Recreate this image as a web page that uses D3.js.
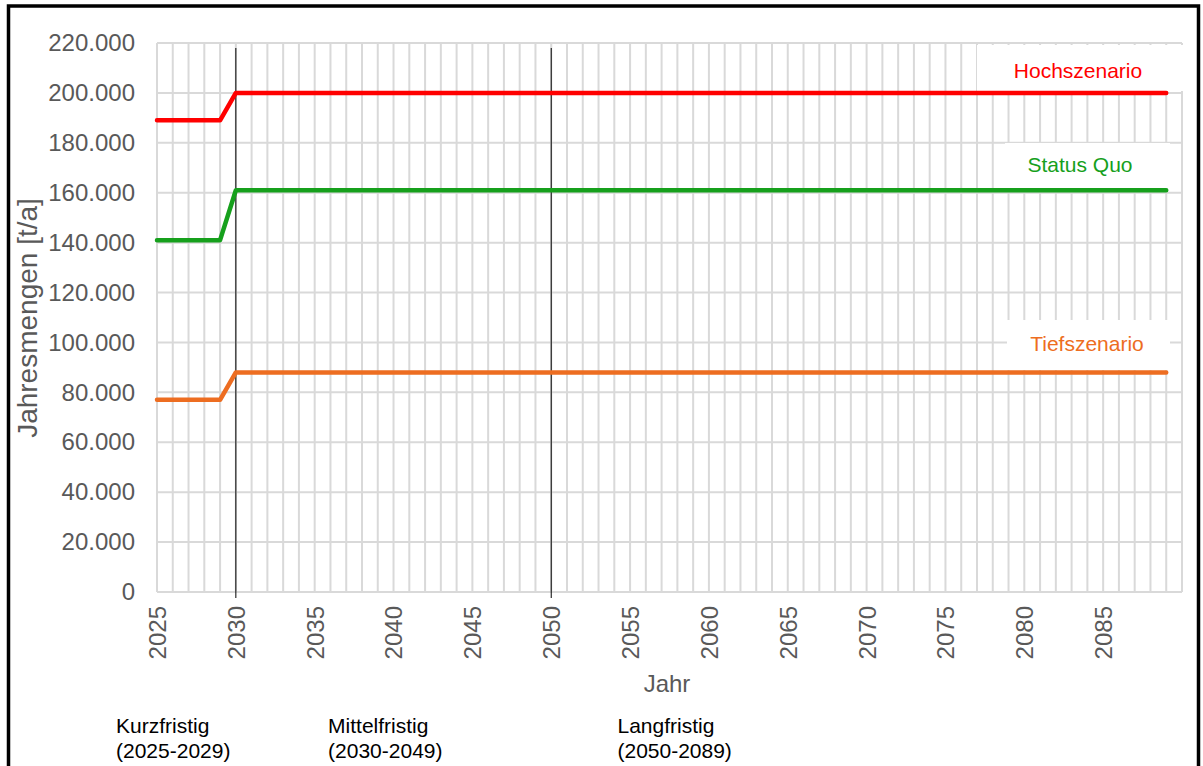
<!DOCTYPE html>
<html><head><meta charset="utf-8">
<script src="https://cdn.jsdelivr.net/npm/d3@7"></script>
<style>body{margin:0;background:#fff}svg{display:block}text{font-family:Arial,"Liberation Sans",sans-serif}</style>
</head><body>
<svg id="c" width="1203" height="766"></svg>
<script>
const years = d3.range(2025, 2090);
const hochValues = years.map(y => y < 2030 ? 189000 : 200000);
const statusQuoValues = years.map(y => y < 2030 ? 141000 : 161000);
const tiefValues = years.map(y => y < 2030 ? 77000 : 88000);
const seriesNames = ["Hochszenario", "Status Quo", "Tiefszenario"];
const seriesColors = ["#ff0000", "#16a01c", "#ed6d21"];
const yTicks = [0,20000,40000,60000,80000,100000,120000,140000,160000,180000,200000,220000];
const xTicks = [2025,2030,2035,2040,2045,2050,2055,2060,2065,2070,2075,2080,2085];
const markerYears = [2030, 2050];
const periods = [
  {label:"Kurzfristig", range:"(2025-2029)", year:2022.4},
  {label:"Mittelfristig", range:"(2030-2049)", year:2035.85},
  {label:"Langfristig", range:"(2050-2089)", year:2054.2}
];

const svg = d3.select("#c");
const x = d3.scaleLinear().domain([2025, 2090]).range([157, 1182]);
const y = d3.scaleLinear().domain([0, 220000]).range([592, 43]);
const fmt = v => d3.format(",")(v).replace(/,/g, ".");

// grid
const g = svg.append("g");
g.selectAll(".vg").data(d3.range(2025, 2091)).join("line")
  .attr("x1", d => x(d)).attr("x2", d => x(d)).attr("y1", y(220000)).attr("y2", y(0))
  .attr("stroke", "#d9d9d9").attr("stroke-width", 2);
g.selectAll(".hg").data(yTicks).join("line")
  .attr("x1", x(2025)).attr("x2", x(2090)).attr("y1", d => y(d)).attr("y2", d => y(d))
  .attr("stroke", "#d9d9d9").attr("stroke-width", 2);

// y axis
const ya = svg.append("g").attr("transform", `translate(${x(2025)},0)`)
  .call(d3.axisLeft(y).tickValues(yTicks).tickFormat(fmt).tickSize(0).tickPadding(22));
ya.select(".domain").remove();
ya.selectAll("text").attr("font-size", 24).attr("fill", "#595959").attr("font-family", "Arial, 'Liberation Sans', sans-serif");

// x axis
const xa = svg.append("g").attr("transform", `translate(0,${y(0)})`)
  .call(d3.axisBottom(x).tickValues(xTicks).tickFormat(d3.format("d")).tickSize(0));
xa.select(".domain").remove();
xa.selectAll("text").attr("font-size", 24).attr("fill", "#595959")
  .attr("font-family", "Arial, 'Liberation Sans', sans-serif")
  .attr("transform", "rotate(-90)").attr("text-anchor", "end")
  .attr("x", -14).attr("y", 0).attr("dy", "0.35em");

// axis titles
svg.append("text").attr("x", 667).attr("y", 692).attr("text-anchor", "middle")
  .attr("font-size", 24).attr("fill", "#595959").attr("font-family", "'Open Sans', sans-serif").text("Jahr");
svg.append("text").attr("transform", "translate(37,318) rotate(-90)").attr("text-anchor", "middle")
  .attr("font-size", 28).attr("fill", "#595959").text("Jahresmengen [t/a]");

// label boxes
const labelBoxes = [
  {x0:977, x1:1183, y0:45, y1:91, tx:1078, ty:78},
  {x0:1005, x1:1170, y0:143, y1:189, tx:1080, ty:172},
  {x0:1007, x1:1170, y0:320, y1:370, tx:1087, ty:351}
];
labelBoxes.forEach((b, i) => {
  svg.append("rect").attr("x", b.x0).attr("y", b.y0).attr("width", b.x1 - b.x0).attr("height", b.y1 - b.y0).attr("fill", "#fff");
});

// marker lines
svg.selectAll(".mk").data(markerYears).join("line")
  .attr("x1", d => x(d)).attr("x2", d => x(d)).attr("y1", 48).attr("y2", 598)
  .attr("stroke", "#000").attr("stroke-width", 1);

// series
const data = [hochValues, statusQuoValues, tiefValues];
const line = d3.line().x((d, i) => x(years[i])).y(d => y(d));
data.forEach((vals, i) => {
  svg.append("path").attr("d", line(vals)).attr("fill", "none")
    .attr("stroke", seriesColors[i]).attr("stroke-width", 4.5).attr("stroke-linecap", "round").attr("stroke-linejoin", "round");
});
labelBoxes.forEach((b, i) => {
  svg.append("text").attr("x", b.tx).attr("y", b.ty).attr("text-anchor", "middle")
    .attr("font-size", 21).attr("fill", seriesColors[i]).text(seriesNames[i]);
});

// period labels
periods.forEach(p => {
  const t = svg.append("text").attr("x", x(p.year)).attr("y", 733).attr("font-size", 21).attr("fill", "#000");
  t.append("tspan").attr("x", x(p.year)).text(p.label);
  t.append("tspan").attr("x", x(p.year)).attr("dy", 25).text(p.range);
});

// border
svg.append("rect").attr("x", 8.5).attr("y", 6).attr("width", 1190).attr("height", 770)
  .attr("fill", "none").attr("stroke", "#000").attr("stroke-width", 3.5);
</script>
</body></html>
